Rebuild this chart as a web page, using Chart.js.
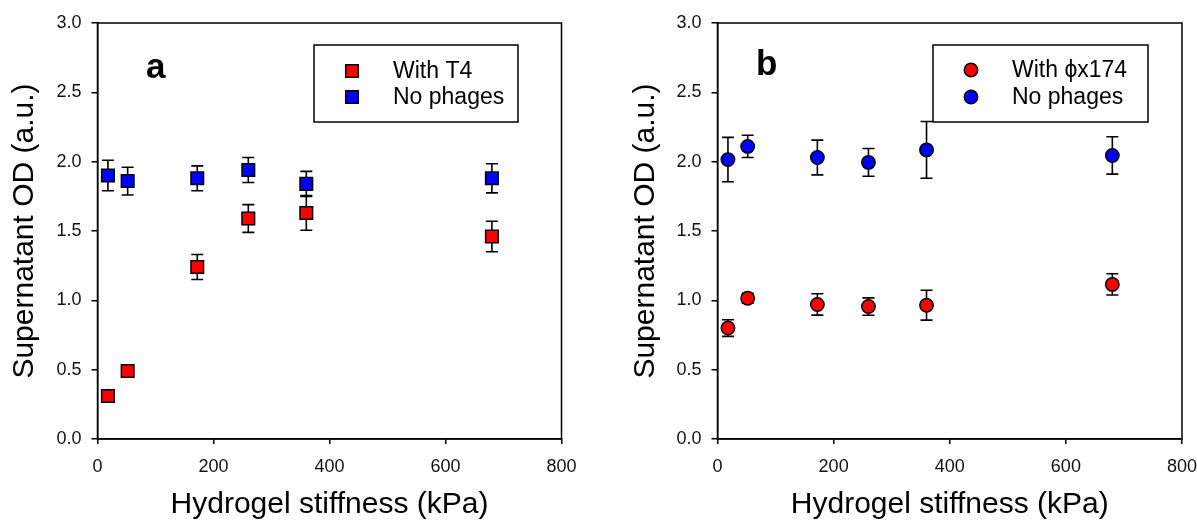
<!DOCTYPE html>
<html>
<head>
<meta charset="utf-8">
<script src="https://cdn.jsdelivr.net/npm/chart.js@4.4.1/dist/chart.umd.min.js"></script>
<style>
  body { margin: 0; background: #fff; }
  .panel { position: absolute; top: 0; height: 523px; }
</style>
</head>
<body>
<div class="panel" style="left:0;width:600px"><canvas id="chartA" width="600" height="523"></canvas></div>
<div class="panel" style="left:600px;width:597px"><canvas id="chartB" width="597" height="523"></canvas></div>
<script>
// hydrogel stiffness (kPa) of the six gels
const stiffness = [18, 52, 172, 260, 360, 680];

// panel a: T4
const t4Od = [0.31, 0.49, 1.24, 1.59, 1.63, 1.46];
const t4Err = [0, 0, 0.09, 0.10, 0.125, 0.11];
const noPhageAOd = [1.90, 1.86, 1.88, 1.94, 1.84, 1.88];
const noPhageAErr = [0.11, 0.10, 0.09, 0.09, 0.09, 0.105];

// panel b: phiX174
const phiXOd = [0.80, 1.015, 0.97, 0.955, 0.965, 1.115];
const phiXErr = [0.06, 0.035, 0.077, 0.063, 0.108, 0.077];
const noPhageBOd = [2.015, 2.11, 2.03, 1.995, 2.085, 2.045];
const noPhageBErr = [0.16, 0.08, 0.125, 0.10, 0.205, 0.135];

const xTicks = [0, 200, 400, 600, 800];
const yTicks = [0, 0.5, 1.0, 1.5, 2.0, 2.5, 3.0];

const FONT = "'Liberation Sans', Arial, sans-serif";

function points(ys) {
  return stiffness.map((x, i) => ({ x: x, y: ys[i] }));
}

// vertical error bars with caps, drawn under the markers
const errorBars = {
  id: "errorBars",
  beforeDatasetsDraw(chart) {
    const ctx = chart.ctx;
    const yScale = chart.scales.y;
    ctx.save();
    ctx.strokeStyle = "#000";
    ctx.lineWidth = 1.6;
    chart.data.datasets.forEach((ds, di) => {
      const meta = chart.getDatasetMeta(di);
      ds.errors.forEach((err, i) => {
        if (!err) return;
        const pt = meta.data[i];
        const v = ds.data[i].y;
        const top = yScale.getPixelForValue(v + err);
        const bot = yScale.getPixelForValue(v - err);
        ctx.beginPath();
        ctx.moveTo(pt.x, top);
        ctx.lineTo(pt.x, bot);
        ctx.moveTo(pt.x - 6, top);
        ctx.lineTo(pt.x + 6, top);
        ctx.moveTo(pt.x - 6, bot);
        ctx.lineTo(pt.x + 6, bot);
        ctx.stroke();
      });
    });
    ctx.restore();
  }
};

// closed frame round the plot, boxed legend and the panel letter
const decorations = {
  id: "decorations",
  afterDraw(chart, args, opts) {
    const ctx = chart.ctx;
    const a = chart.chartArea;
    ctx.save();
    ctx.strokeStyle = "#000";
    ctx.lineWidth = 1.5;
    ctx.strokeRect(a.left, a.top, a.right - a.left, a.bottom - a.top);

    const box = opts.box;
    ctx.fillStyle = "#fff";
    ctx.fillRect(box.x, box.y, box.w, box.h);
    ctx.strokeRect(box.x, box.y, box.w, box.h);

    ctx.font = "23px " + FONT;
    ctx.textBaseline = "middle";
    ctx.textAlign = "left";
    chart.data.datasets.forEach((ds, i) => {
      const y = opts.rowY[i];
      ctx.fillStyle = ds.backgroundColor;
      ctx.strokeStyle = ds.borderColor;
      ctx.lineWidth = ds.borderWidth;
      Chart.helpers.drawPoint(ctx, {
        pointStyle: ds.pointStyle,
        radius: ds.pointRadius,
        borderWidth: ds.borderWidth
      }, opts.markerX, y);
      ctx.fillStyle = "#000";
      ctx.fillText(ds.label, opts.textX, y + 1);
    });

    ctx.font = "bold 35px " + FONT;
    ctx.textBaseline = "alphabetic";
    ctx.fillStyle = "#000";
    ctx.fillText(opts.letter, opts.letterX, opts.letterY);
    ctx.restore();
  }
};

function makeChart(id, sets, style, geom) {
  const datasets = sets.map(s => ({
    label: s.label,
    data: points(s.od),
    errors: s.err,
    backgroundColor: s.color,
    borderColor: "#000",
    borderWidth: 1.5,
    pointStyle: style.pointStyle,
    pointRadius: style.radius,
    pointHoverRadius: style.radius
  }));

  return new Chart(document.getElementById(id), {
    type: "scatter",
    data: { datasets: datasets },
    plugins: [errorBars, decorations],
    options: {
      responsive: false,
      animation: false,
      layout: { padding: { top: 23, right: geom.right, bottom: 0, left: 0 } },
      plugins: {
        legend: { display: false },
        tooltip: { enabled: false },
        decorations: geom.legend
      },
      scales: {
        x: {
          type: "linear",
          min: 0,
          max: 800,
          afterBuildTicks: s => { s.ticks = xTicks.map(v => ({ value: v })); },
          afterFit: s => { s.height = 84; s.paddingLeft = 0; s.paddingRight = 0; },
          border: { display: true, color: "#000", width: 1.5 },
          grid: { drawOnChartArea: false, drawTicks: true, tickLength: 5, color: "#000", lineWidth: 1.5 },
          ticks: { color: "#111", padding: 12, font: { family: FONT, size: 18 } },
          title: {
            display: true,
            text: "Hydrogel stiffness (kPa)",
            color: "#000",
            font: { family: FONT, size: 30 },
            padding: { top: 0, bottom: 0 }
          }
        },
        y: {
          type: "linear",
          min: 0,
          max: 3,
          afterBuildTicks: s => { s.ticks = yTicks.map(v => ({ value: v })); },
          afterFit: s => { s.width = geom.left; s.paddingTop = 0; s.paddingBottom = 0; },
          border: { display: true, color: "#000", width: 1.5 },
          grid: { drawOnChartArea: false, drawTicks: true, tickLength: 6, color: "#000", lineWidth: 1.5 },
          ticks: {
            color: "#111",
            padding: 10,
            font: { family: FONT, size: 18 },
            callback: v => v.toFixed(1)
          },
          title: {
            display: true,
            text: "Supernatant OD (a.u.)",
            color: "#000",
            font: { family: FONT, size: 30 },
            padding: { top: geom.titlePad, bottom: 0 }
          }
        }
      }
    }
  });
}

makeChart("chartA", [
  { label: "With T4", od: t4Od, err: t4Err, color: "#ff0000" },
  { label: "No phages", od: noPhageAOd, err: noPhageAErr, color: "#0000ff" }
], { pointStyle: "rect", radius: 8.9 }, {
  left: 97.5, right: 38.5, titlePad: 7,
  legend: { box: { x: 314, y: 45, w: 204, h: 77 }, markerX: 352, rowY: [71, 97], textX: 393, letter: "a", letterX: 146, letterY: 78 }
});

makeChart("chartB", [
  { label: "With \u03d5x174", od: phiXOd, err: phiXErr, color: "#ff0000" },
  { label: "No phages", od: noPhageBOd, err: noPhageBErr, color: "#0000ff" }
], { pointStyle: "circle", radius: 6.7 }, {
  left: 117.5, right: 15, titlePad: 28,
  legend: { box: { x: 333, y: 45, w: 215, h: 77 }, markerX: 371, rowY: [70, 97], textX: 412, letter: "b", letterX: 156, letterY: 75 }
});
</script>
</body>
</html>
